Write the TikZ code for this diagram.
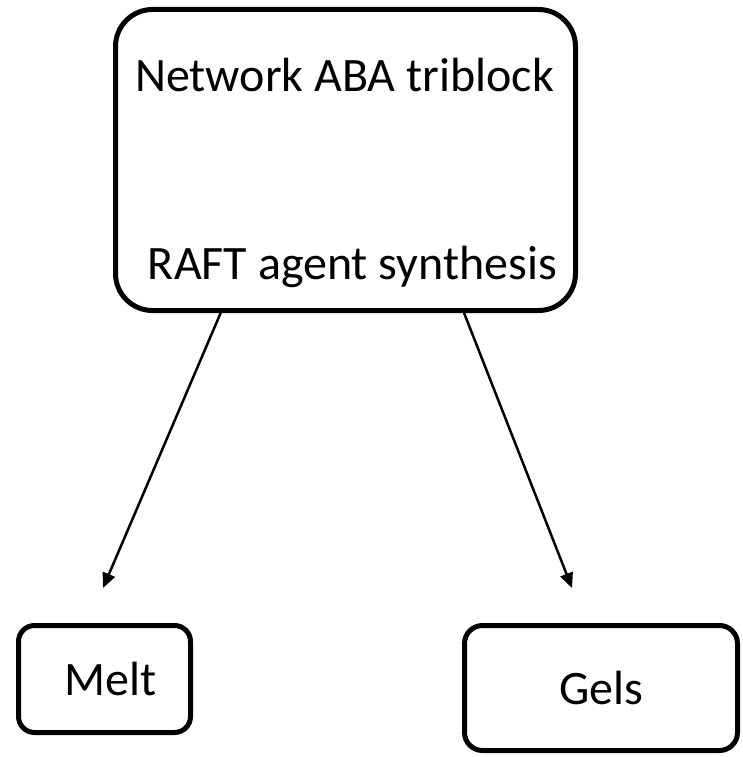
\documentclass[tikz,border=0pt]{standalone}
\usepackage{fontspec}
\setmainfont{Carlito}
\usetikzlibrary{arrows.meta,positioning,calc}
\tikzset{
  mainbox/.style={draw=black, rounded corners=37pt, line width=5pt, fill=white,
                  minimum width=460pt, minimum height=301pt, inner sep=0pt},
  leafbox/.style={draw=black, line width=5pt, fill=white, inner sep=0pt,
                  font=\fontsize{48}{57}\selectfont},
  boxtext/.style={font=\fontsize{48}{57}\selectfont, anchor=base, inner sep=0pt},
  arrow/.style={-{Triangle[length=15pt,width=13pt]}, line width=2.5pt, black},
}

\begin{document}
\begin{tikzpicture}[x=1pt,y=-1pt]
  \useasboundingbox (0,0) rectangle (743,757);

  % Top box
  \node[mainbox] (net) at (345.5,160) {};
  \node[boxtext] (nettop) at (344.5,92) {Network ABA triblock};
  \node[boxtext] (netbot) at (352.5,279) {RAFT agent synthesis};

  % Products
  \node[leafbox, rounded corners=16pt, minimum width=172pt, minimum height=107pt]
        (melt) at (104.5,679) {\hspace*{12pt}Melt};
  \node[leafbox, rounded corners=18pt, minimum width=273pt, minimum height=125pt]
        (gels) at (601,688) {Gels};

  \coordinate (meltin) at (103,588);
  \coordinate (gelsin) at (572,588);

  \draw[arrow] ($(net.south west)!0.2315!(net.south east)$) -- (meltin);
  \draw[arrow] ($(net.south west)!0.755!(net.south east)$) -- (gelsin);
\end{tikzpicture}
\end{document}
